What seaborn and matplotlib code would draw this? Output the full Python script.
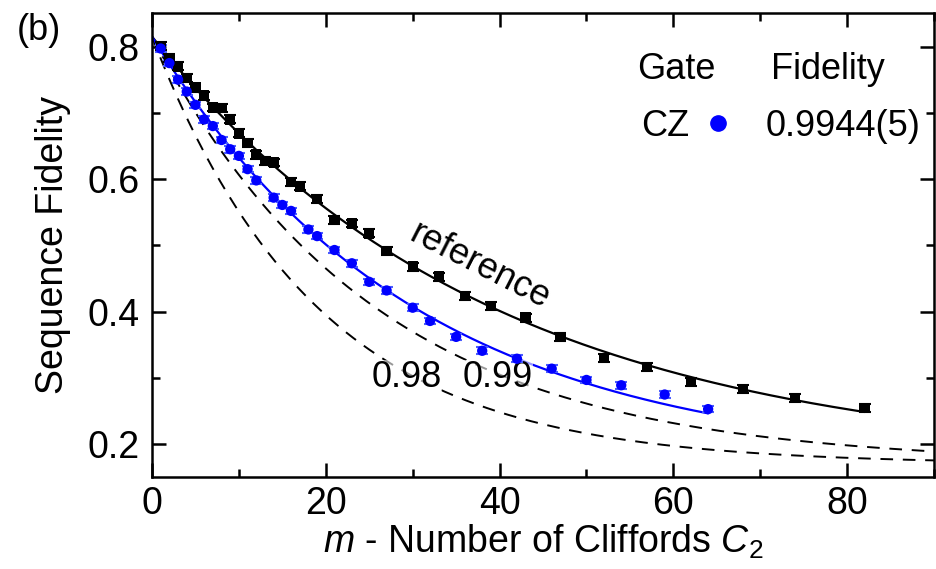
import numpy as np
import matplotlib.pyplot as plt
import seaborn as sns
from matplotlib.lines import Line2D
from matplotlib.ticker import MultipleLocator

# reference RB (black squares)
ref_m = [1, 2, 3, 4, 5, 6, 7, 8, 9, 10, 11, 12, 13, 14, 16, 17, 19, 21, 23, 25, 27,
         30, 33, 36, 39, 43, 47, 52, 57, 62, 68, 74, 82]
ref_f = [0.801, 0.783, 0.770, 0.752, 0.738, 0.726, 0.708, 0.707, 0.690, 0.669, 0.654,
         0.637, 0.627, 0.625, 0.596, 0.589, 0.570, 0.538, 0.533, 0.518, 0.491,
         0.468, 0.453, 0.424, 0.409, 0.391, 0.362, 0.330, 0.317, 0.294, 0.283, 0.270, 0.255]
ref_err = [0.006] * len(ref_m)

# interleaved CZ (blue circles)
cz_m = [1, 2, 3, 4, 5, 6, 7, 8, 9, 10, 11, 12, 14, 15, 16, 18, 19, 21, 23, 25, 27,
        30, 32, 35, 38, 42, 46, 50, 54, 59, 64]
cz_f = [0.797, 0.775, 0.750, 0.732, 0.712, 0.690, 0.680, 0.659, 0.645, 0.635, 0.615,
        0.598, 0.572, 0.561, 0.552, 0.524, 0.514, 0.493, 0.473, 0.445, 0.432,
        0.406, 0.386, 0.362, 0.341, 0.329, 0.314, 0.297, 0.289, 0.275, 0.253]
cz_err = [0.005] * len(cz_m)

# fit parameters  F = A p^m + B
A, B = 0.645, 0.17
p_ref = 0.97467
p_cz = 0.96725
dashed_fid = [0.98, 0.99]

sns.set_theme(style="ticks")
plt.rcParams["font.family"] = ["Liberation Sans", "DejaVu Sans"]
plt.rcParams["mathtext.fontset"] = "custom"
plt.rcParams["mathtext.it"] = "Liberation Sans:italic"
plt.rcParams["mathtext.rm"] = "Liberation Sans"
for key in ["text.color", "axes.labelcolor", "xtick.color", "ytick.color"]:
    plt.rcParams[key] = "black"

fig = plt.figure(figsize=(9.36, 5.69), dpi=100)
ax = fig.add_axes([0.1624, 0.161, 0.8355, 0.8155])

# dashed curves for assumed gate fidelities
m_long = np.linspace(0, 90, 300)
for fid in dashed_fid:
    p = p_ref * (1 - 4 / 3 * (1 - fid))
    sns.lineplot(x=m_long, y=A * p ** m_long + B, color="black", lw=1.4,
                 linestyle=(0, (6.5, 5)), ax=ax)

m_ref = np.linspace(0, 82, 300)
sns.lineplot(x=m_ref, y=A * p_ref ** m_ref + B, color="black", lw=1.6, ax=ax)
m_cz = np.linspace(0, 64, 300)
sns.lineplot(x=m_cz, y=A * p_cz ** m_cz + B, color="blue", lw=1.6, ax=ax)

ax.errorbar(ref_m, ref_f, yerr=ref_err, fmt="none", ecolor="black", elinewidth=1.5,
            capsize=4.5, capthick=1.5, zorder=4)
sns.scatterplot(x=ref_m, y=ref_f, marker="s", color="black", s=55, edgecolor="none",
                ax=ax, zorder=5)
ax.errorbar(cz_m, cz_f, yerr=cz_err, fmt="none", ecolor="#4a5cff", elinewidth=1.5,
            capsize=4.5, capthick=1.5, zorder=4)
sns.scatterplot(x=cz_m, y=cz_f, marker="o", color="blue", s=55, edgecolor="none",
                ax=ax, zorder=5)

ax.set_xlim(0, 90)
ax.set_ylim(0.15, 0.85)
ax.xaxis.set_major_locator(MultipleLocator(20))
ax.xaxis.set_minor_locator(MultipleLocator(10))
ax.yaxis.set_major_locator(MultipleLocator(0.2))
ax.yaxis.set_minor_locator(MultipleLocator(0.1))
ax.set_yticks([0.2, 0.4, 0.6, 0.8])
ax.tick_params(which="both", direction="in", top=True, right=True, width=1.8,
               labelsize=27)
ax.tick_params(axis="y", pad=9)
ax.tick_params(axis="x", pad=6)
ax.tick_params(which="major", length=10)
ax.tick_params(which="minor", length=6)
for sp in ax.spines.values():
    sp.set_linewidth(1.8)
    sp.set_color("black")

ax.set_xlabel(r"$\it{m}$ - Number of Cliffords $\it{C}_{2}$", fontsize=27, labelpad=1)
ax.set_ylabel("Sequence Fidelity", fontsize=27, labelpad=12)

ax.text(37.7, 0.468, "reference", fontsize=26, rotation=-27, ha="center", va="center")
for fid, xm in zip(dashed_fid, [29.3, 39.8]):
    ax.text(xm, 0.300, f"{fid:.2f}", fontsize=26, ha="center", va="center",
            bbox=dict(facecolor="white", alpha=0.6, edgecolor="none", pad=0))

# legend block
ax.text(0.670, 0.878, "Gate", transform=ax.transAxes, fontsize=26, ha="center", va="center")
ax.text(0.864, 0.878, "Fidelity", transform=ax.transAxes, fontsize=26, ha="center", va="center")
handle = Line2D([], [], marker="o", color="blue", linestyle="none", markersize=11)
ax.legend([handle], ["CZ"], markerfirst=False, loc="center right",
          bbox_to_anchor=(0.747, 0.757), frameon=False, fontsize=26,
          handlelength=1.0, handletextpad=0.3, borderpad=0, borderaxespad=0)
ax.text(0.884, 0.757, "0.9944(5)", transform=ax.transAxes, fontsize=26, ha="center", va="center")

fig.text(0.018, 0.947, "(b)", fontsize=26, ha="left", va="center")

fig.savefig("out.png", dpi=100)
